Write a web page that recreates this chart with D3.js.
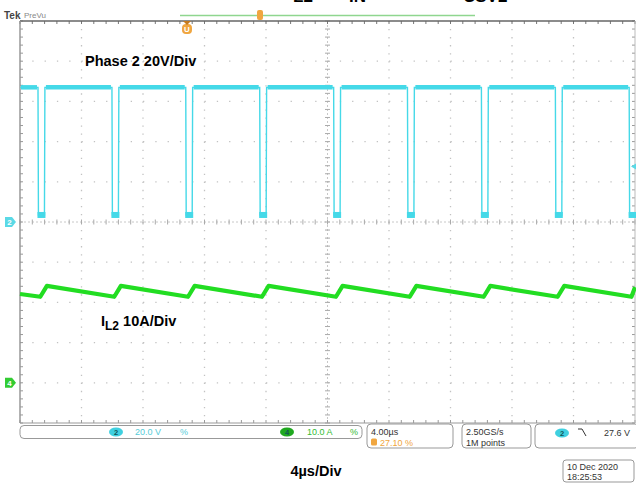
<!DOCTYPE html>
<html><head><meta charset="utf-8">
<script src="https://cdn.jsdelivr.net/npm/d3@7"></script>
<style>
html,body{margin:0;padding:0;background:#fff;}
svg{display:block;font-family:"Liberation Sans",Arial,sans-serif;}
</style></head>
<body>
<script>
// ---------- data ----------
// Channel 2 (phase voltage, V) vertices: time in µs
const ch2Times = [0, 1.17, 1.20, 1.59, 1.62, 5.98, 6.01, 6.40, 6.43, 10.78, 10.81, 11.20, 11.23,
  15.59, 15.62, 16.01, 16.04, 20.40, 20.43, 20.82, 20.85, 25.20, 25.23, 25.62, 25.65,
  30.01, 30.04, 30.43, 30.46, 34.82, 34.85, 35.24, 35.27, 39.62, 39.65, 40.0];
const ch2Volts = [67, 67, 3.5, 3.5, 67, 67, 3.5, 3.5, 67, 67, 3.5, 3.5, 67,
  67, 3.5, 3.5, 67, 67, 3.5, 3.5, 67, 67, 3.5, 3.5, 67,
  67, 3.5, 3.5, 67, 67, 3.5, 3.5, 67, 67, 3.5, 3.5];
// Channel 4 (inductor current I_L2, A) vertices
const ch4Times = [0, 1.32, 1.75, 6.13, 6.56, 10.93, 11.36, 15.74, 16.17, 20.55, 20.98,
  25.35, 25.78, 30.16, 30.59, 34.97, 35.40, 39.77, 40.0];
const ch4Amps = [22.1, 21.4, 24.1, 21.4, 24.1, 21.4, 24.1, 21.4, 24.1, 21.4, 24.1,
  21.4, 24.1, 21.4, 24.1, 21.4, 24.1, 21.4, 23.8];
const timeDomain = [0, 40];      // 4 µs/div x 10 div
const ch2VoltsPerDiv = 20, ch4AmpsPerDiv = 10;
const ch2OffsetDiv = 0, ch4OffsetDiv = -4;
const triggerLevel = 27.6;
const statusTexts = {ch2:"20.0 V", ch4:"10.0 A", timebase:"4.00µs", trigPos:"27.10 %",
  rate:"2.50GS/s", points:"1M points", trig:"27.6 V", date:"10 Dec 2020", time:"18:25:53"};

// ---------- drawing ----------
const W = 636, H = 483;
const svg = d3.select("body").append("svg").attr("width", W).attr("height", H);
const L = 20, R = 635, T = 21, B = 423;
const x = d3.scaleLinear().domain(timeDomain).range([L, R]);
const yDiv = d3.scaleLinear().domain([-5, 5]).range([B, T]);
const y2 = v => yDiv(v / ch2VoltsPerDiv + ch2OffsetDiv);
const y4 = a => yDiv(a / ch4AmpsPerDiv + ch4OffsetDiv);

// clipped caption at very top (cut off in the original as well)
const cap = svg.append("g").attr("font-weight", "bold").attr("font-size", 17).attr("fill", "#000");
cap.append("text").attr("x", 293).attr("y", 2).text("L2");
cap.append("text").attr("x", 349).attr("y", 2).text("IN");
cap.append("text").attr("x", 463).attr("y", 2).text("CSV2");

// grid
const g = svg.append("g");
const xDivs = d3.range(1, 10), yDivs = d3.range(-4, 5);
const dx = (R - L) / 10, dy = (B - T) / 10;
xDivs.forEach(i => {
  if (i === 5) return;
  g.append("line").attr("x1", L + i*dx).attr("x2", L + i*dx).attr("y1", T).attr("y2", B)
   .attr("stroke", "#c2c2c2").attr("stroke-width", 1.3).attr("stroke-dasharray", `1.3,${dy/5-1.3}`);
});
yDivs.forEach(i => {
  if (i === 0) return;
  g.append("line").attr("x1", L).attr("x2", R).attr("y1", yDiv(i)).attr("y2", yDiv(i))
   .attr("stroke", "#c2c2c2").attr("stroke-width", 1.3).attr("stroke-dasharray", `1.3,${dx/5-1.3}`);
});
// center crosshair with ticks
const cx = L + 5*dx, cy = yDiv(0);
g.append("line").attr("x1", cx).attr("x2", cx).attr("y1", T).attr("y2", B).attr("stroke", "#c8c8c8").attr("stroke-width", 1).attr("stroke-dasharray", "2,2");
g.append("line").attr("x1", L).attr("x2", R).attr("y1", cy).attr("y2", cy).attr("stroke", "#c8c8c8").attr("stroke-width", 1).attr("stroke-dasharray", "2,2");
for (let k = 0; k <= 50; k++) {
  const yy = T + k*dy/5;
  g.append("line").attr("x1", cx-2.5).attr("x2", cx+2.5).attr("y1", yy).attr("y2", yy).attr("stroke", "#aaa");
  g.append("line").attr("x1", L).attr("x2", L+3).attr("y1", yy).attr("y2", yy).attr("stroke", "#999");
  g.append("line").attr("x1", R-3).attr("x2", R).attr("y1", yy).attr("y2", yy).attr("stroke", "#999");
  const xx = L + k*dx/5;
  g.append("line").attr("y1", cy-2.5).attr("y2", cy+2.5).attr("x1", xx).attr("x2", xx).attr("stroke", "#aaa");
  g.append("line").attr("y1", T).attr("y2", T+3).attr("x1", xx).attr("x2", xx).attr("stroke", "#777");
  g.append("line").attr("y1", B-3).attr("y2", B).attr("x1", xx).attr("x2", xx).attr("stroke", "#999");
}
// border
g.append("line").attr("x1", L).attr("x2", R).attr("y1", T).attr("y2", T).attr("stroke", "#666").attr("stroke-width", 1.3);
g.append("line").attr("x1", L).attr("x2", R).attr("y1", B).attr("y2", B).attr("stroke", "#999").attr("stroke-width", 1.2);
g.append("line").attr("x1", L).attr("x2", L).attr("y1", T).attr("y2", B).attr("stroke", "#999").attr("stroke-width", 1.5);
g.append("line").attr("x1", R).attr("x2", R).attr("y1", T).attr("y2", B).attr("stroke", "#bbb").attr("stroke-width", 1);

// top record bar
svg.append("line").attr("x1", 180).attr("x2", 475).attr("y1", 15.5).attr("y2", 15.5).attr("stroke", "#8fd68f").attr("stroke-width", 1.5);
svg.append("rect").attr("x", 257).attr("y", 10).attr("width", 6).attr("height", 10).attr("rx", 2).attr("fill", "#f0a640");
svg.append("rect").attr("x", 182).attr("y", 24).attr("width", 10).attr("height", 10).attr("rx", 4).attr("fill", "#f0a640");
svg.append("text").attr("x", 187).attr("y", 32).attr("text-anchor", "middle").attr("font-size", 8).attr("font-weight", "bold").attr("fill", "#fff").text("U");
svg.append("path").attr("d", `M183,21 L191,21 L187,25 Z`).attr("fill", "#c47a20");

// Tek PreVu
svg.append("text").attr("x", 4).attr("y", 19).attr("font-size", 10).attr("font-weight", "bold").attr("fill", "#444").text("Tek");
svg.append("text").attr("x", 24).attr("y", 18).attr("font-size", 8).attr("fill", "#888").text("PreVu");

// channel markers
function marker(yy, col, label) {
  svg.append("path").attr("d", `M5,${yy-5} L12,${yy-5} L16,${yy} L12,${yy+5} L5,${yy+5} Z`).attr("fill", col);
  svg.append("text").attr("x", 9.5).attr("y", yy+3).attr("text-anchor", "middle").attr("font-size", 8).attr("font-weight", "bold").attr("fill", "#fff").text(label);
}
marker(y2(0), "#5ad9e6", "2");
marker(y4(0), "#33cc33", "4");
// trigger level marker on right
svg.append("path").attr("d", `M636,${y2(triggerLevel)-3} L631,${y2(triggerLevel)} L636,${y2(triggerLevel)+3} Z`).attr("fill", "#5ad9e6");

// ch2 waveform
const cyan = "#45d9e8";
const line2 = d3.line().x((d, i) => x(ch2Times[i])).y((d, i) => y2(ch2Volts[i]));
svg.append("path").datum(ch2Times).attr("d", line2).attr("fill", "none").attr("stroke", cyan).attr("stroke-width", 1.4);
// plateau band & low squares
for (let i = 0; i < ch2Times.length - 1; i++) {
  if (ch2Volts[i] === ch2Volts[i+1]) {
    if (ch2Volts[i] > 30) {
      svg.append("line").attr("x1", x(ch2Times[i]) + 1).attr("x2", x(ch2Times[i+1]) - 1)
        .attr("y1", y2(ch2Volts[i])).attr("y2", y2(ch2Volts[i])).attr("stroke", cyan).attr("stroke-width", 4.5);
    } else {
      svg.append("rect").attr("x", x(ch2Times[i]) - 1).attr("y", y2(ch2Volts[i]) - 3)
        .attr("width", x(ch2Times[i+1]) - x(ch2Times[i]) + 2).attr("height", 6).attr("fill", cyan);
    }
  }
}
// ch4 waveform
const line4 = d3.line().x((d, i) => x(ch4Times[i])).y((d, i) => y4(ch4Amps[i]));
svg.append("path").datum(ch4Times).attr("d", line4).attr("fill", "none").attr("stroke", "#22dd22")
  .attr("stroke-width", 4.2).attr("stroke-linejoin", "round");

// labels
svg.append("text").attr("x", 85).attr("y", 66).attr("font-size", 14.5).attr("font-weight", "bold").text("Phase 2 20V/Div");
const il = svg.append("text").attr("x", 101).attr("y", 326).attr("font-size", 14.5).attr("font-weight", "bold");
il.append("tspan").text("I");
il.append("tspan").attr("dy", 4).attr("font-size", 12).text("L2");
il.append("tspan").attr("dy", -4).text(" 10A/Div");
svg.append("text").attr("x", 316).attr("y", 476).attr("text-anchor", "middle").attr("font-size", 14.5).attr("font-weight", "bold").text("4µs/Div");

// status bar
const sb = svg.append("g").attr("font-size", 9);
sb.append("rect").attr("x", 20).attr("y", 425.5).attr("width", 342).attr("height", 13).attr("rx", 4).attr("fill", "none").attr("stroke", "#999");
function pill(cxp, cyp, col, label) {
  sb.append("ellipse").attr("cx", cxp).attr("cy", cyp).attr("rx", 7).attr("ry", 4.5).attr("fill", col);
  sb.append("text").attr("x", cxp).attr("y", cyp+3).attr("text-anchor", "middle").attr("font-size", 7.5).attr("font-weight", "bold").attr("fill", "#155").text(label);
}
pill(116, 432, "#3fd0e0", "2");
sb.append("text").attr("x", 135).attr("y", 435).attr("fill", "#55cbd8").text(statusTexts.ch2);
sb.append("text").attr("x", 180).attr("y", 435).attr("fill", "#55cbd8").text("%");
pill(287, 432, "#1fa81f", "4");
sb.append("text").attr("x", 307).attr("y", 435).attr("fill", "#33bb33").text(statusTexts.ch4);
sb.append("text").attr("x", 350).attr("y", 435).attr("fill", "#33bb33").text("%");

sb.append("rect").attr("x", 367).attr("y", 424).attr("width", 86).attr("height", 24).attr("rx", 4).attr("fill", "none").attr("stroke", "#999");
sb.append("text").attr("x", 371).attr("y", 435).attr("fill", "#333").text(statusTexts.timebase);
sb.append("rect").attr("x", 371).attr("y", 438.5).attr("width", 6).attr("height", 7).attr("rx", 1.5).attr("fill", "#f0a640");
sb.append("text").attr("x", 380).attr("y", 445.5).attr("fill", "#f0a640").text(statusTexts.trigPos);

sb.append("rect").attr("x", 462).attr("y", 424).attr("width", 69).attr("height", 24).attr("rx", 4).attr("fill", "none").attr("stroke", "#999");
sb.append("text").attr("x", 466).attr("y", 435).attr("fill", "#333").text(statusTexts.rate);
sb.append("text").attr("x", 466).attr("y", 445.5).attr("fill", "#333").text(statusTexts.points);

sb.append("rect").attr("x", 535).attr("y", 424).attr("width", 104).attr("height", 24).attr("rx", 4).attr("fill", "none").attr("stroke", "#999");
pill(562, 433, "#3fd0e0", "2");
sb.append("path").attr("d", "M578,429 L582,429 L586,436").attr("fill", "none").attr("stroke", "#333").attr("stroke-width", 1);
sb.append("text").attr("x", 630).attr("y", 436).attr("text-anchor", "end").attr("fill", "#333").text(statusTexts.trig);

sb.append("rect").attr("x", 563).attr("y", 460).attr("width", 71).attr("height", 22).attr("rx", 3).attr("fill", "none").attr("stroke", "#999");
sb.append("text").attr("x", 567).attr("y", 470).attr("fill", "#333").text(statusTexts.date);
sb.append("text").attr("x", 567).attr("y", 479.5).attr("fill", "#333").text(statusTexts.time);
</script>
</body></html>
